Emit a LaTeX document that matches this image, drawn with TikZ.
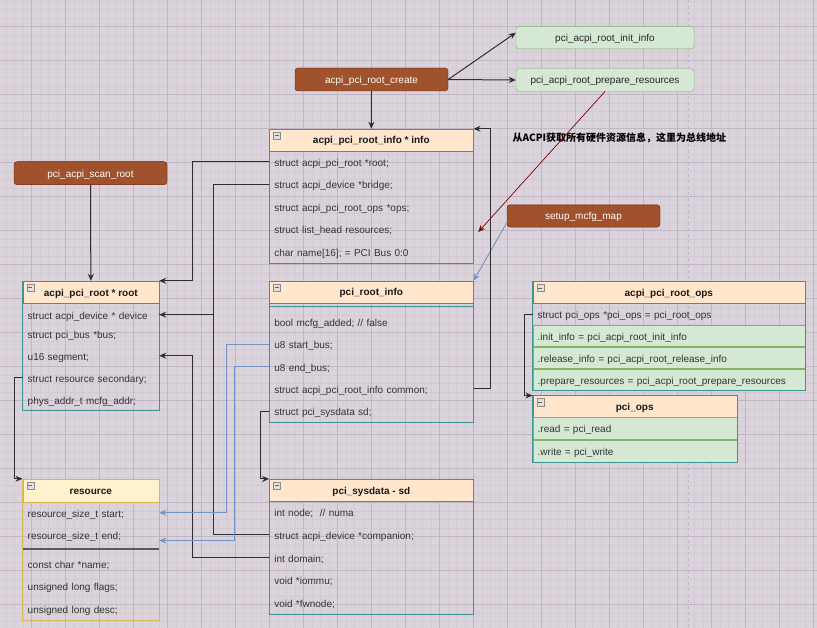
\documentclass[tikz,border=0pt]{standalone}
\usepackage{fontspec}
\setmainfont{Liberation Sans}
\newfontfamily\cjk{Noto Sans CJK SC}
\usetikzlibrary{arrows.meta,positioning}

\definecolor{canvas}{HTML}{DBD3DB}
\definecolor{gridmin}{HTML}{D3CAD4}
\definecolor{gridmaj}{HTML}{C1B6C3}
\definecolor{brownfill}{HTML}{A0522D}
\definecolor{brownline}{HTML}{6D1F00}
\definecolor{grnfill}{HTML}{D5E8D4}
\definecolor{grnline}{HTML}{82B366}
\definecolor{peach}{HTML}{FFE6CC}
\definecolor{tealc}{HTML}{3C9494}
\definecolor{resfill}{HTML}{FFF2CC}
\definecolor{resline}{HTML}{D6B656}
\definecolor{bluec}{HTML}{7394C4}
\definecolor{redc}{HTML}{800000}
\definecolor{rowtxt}{HTML}{333333}
\definecolor{wirec}{HTML}{2E2E2E}

\newcommand\txtsize{\fontsize{10}{12}\selectfont}

\tikzset{
  brownbox/.style={rectangle, rounded corners=3pt, fill=brownfill, draw=brownline, text=white, font=\txtsize, minimum width=153pt, minimum height=23pt, inner sep=0pt, text height=9pt, text depth=1pt},
  greenbox/.style={rectangle, rounded corners=3pt, fill=grnfill, draw=grnline, text=black!85, font=\txtsize, minimum width=178pt, minimum height=22.5pt, inner sep=0pt, text height=9pt, text depth=1pt},
  hdr/.style={rectangle, fill=peach, draw=tealc, text=black!90, font=\txtsize\bfseries, minimum height=22pt, inner sep=0pt, text height=9pt, text depth=1pt},
  fld/.style={rectangle, text=rowtxt, font=\txtsize, minimum height=22pt, inner xsep=5pt, inner ysep=0pt, align=left, text height=9.5pt, text depth=0.5pt},
  grnfld/.style={fld, fill=grnfill, draw=grnline},
  tealframe/.style={draw=tealc},
  minbox/.style={rectangle, draw=black!45, fill=black!12, minimum size=7pt, inner sep=0pt, anchor=north west,
    path picture={\draw[black!60] ([xshift=1.5pt]path picture bounding box.west) -- ([xshift=-1.5pt]path picture bounding box.east);}},
  wire/.style={draw=wirec, line width=1pt},
  wirearrow/.style={wire, -{Stealth[length=7pt,width=6pt]}},
  bluearrow/.style={draw=bluec, line width=0.9pt, -{Stealth[length=7pt,width=6pt]}},
}

\begin{document}
\begin{tikzpicture}[x=1pt, y=-1pt]

    % canvas and grid
    \useasboundingbox (0,0) rectangle (817,628);
    \fill[canvas] (0,0) rectangle (817,628);
    \begin{scope}
        \clip (0,0) rectangle (817,628);
        \foreach \k in {0,...,96} \draw[gridmin, line width=0.7pt] ({-2.3+8.5*\k},0) -- ({-2.3+8.5*\k},628);
        \foreach \k in {0,...,75} \draw[gridmin, line width=0.7pt] (0,{-7.3+8.5*\k}) -- (817,{-7.3+8.5*\k});
        \foreach \k in {1,...,24} \draw[gridmaj, line width=0.8pt] ({-2.3+34*\k},0) -- ({-2.3+34*\k},628);
        \foreach \k in {1,...,18} \draw[gridmaj, line width=0.8pt] (0,{-7.3+34*\k}) -- (817,{-7.3+34*\k});
        \draw[gridmaj, dash pattern=on 3pt off 3pt] (688.3,0) -- (688.3,628); % page break
    \end{scope}

    % functions
    \node[brownbox] (create) at (371.5,79.5) {acpi\_pci\_root\_create};
    \node[brownbox] (scan) at (90.5,173.2) {pci\_acpi\_scan\_root};
    \node[brownbox, minimum height=22.3pt] (mcfg) at (583.5,216) {setup\_mcfg\_map};
    \node[greenbox] (initinfo) at (605,37.7) {pci\_acpi\_root\_init\_info};
    \node[greenbox] (prepres) at (605,80) {pci\_acpi\_root\_prepare\_resources};
    \node[anchor=west, inner sep=0pt, font=\txtsize\cjk\bfseries, text=black] (acpinote) at (512.5,137.5) {从ACPI获取所有硬件资源信息，这里为总线地址};

    % acpi_pci_root_info
    \node[hdr, minimum width=204pt] (infoH) at (371.3,140) {acpi\_pci\_root\_info * info};
    \node[fld, text width=194pt] (info1) at (371.3,162) {struct acpi\_pci\_root *root;};
    \node[fld, text width=194pt, below=0pt of info1] (info2) {struct acpi\_device *bridge;};
    \node[fld, text width=194pt, below=0pt of info2] (info3) {struct acpi\_pci\_root\_ops *ops;};
    \node[fld, text width=194pt, below=0pt of info3] (info4) {struct list\_head resources;};
    \node[fld, text width=194pt, below=0pt of info4] (info5) {char name[16]; = PCI Bus 0:0};
    \draw[tealframe] (infoH.north west) rectangle (info5.south east);

    % pci_root_info
    \node[hdr, minimum width=204pt] (priH) at (371.3,292) {pci\_root\_info};
    \draw[tealframe] ([yshift=-3pt]priH.south west) -- ([yshift=-3pt]priH.south east);
    \node[fld, text width=194pt] (pri1) at (371.3,321.7) {bool mcfg\_added; // false};
    \node[fld, text width=194pt, below=0pt of pri1] (pri2) {u8 start\_bus;};
    \node[fld, text width=194pt, below=0pt of pri2] (pri3) {u8 end\_bus;};
    \node[fld, text width=194pt, below=0pt of pri3] (pri4) {struct acpi\_pci\_root\_info common;};
    \node[fld, text width=194pt, below=0pt of pri4] (pri5) {struct pci\_sysdata sd;};
    \draw[tealframe] (priH.north west) rectangle (pri5.south east);

    % acpi_pci_root
    \node[hdr, minimum width=136.3pt, minimum height=22.7pt] (rootH) at (90.85,292.35) {acpi\_pci\_root * root};
    \node[fld, text width=126.3pt, minimum height=20pt] (root1) at (90.85,314.7) {struct acpi\_device * device};
    \node[fld, text width=126.3pt, minimum height=20pt] (root2) at (90.85,333.7) {struct pci\_bus *bus;};
    \node[fld, text width=126.3pt, minimum height=20pt] (root3) at (90.85,355.7) {u16 segment;};
    \node[fld, text width=126.3pt, minimum height=20pt] (root4) at (90.85,378) {struct resource secondary;};
    \node[fld, text width=126.3pt, minimum height=20pt] (root5) at (90.85,399.7) {phys\_addr\_t mcfg\_addr;};
    \draw[tealframe] (rootH.north west) rectangle (root5.south east);

    % resource
    \node[hdr, fill=resfill, draw=resline, minimum width=136.3pt, minimum height=22.7pt] (resH) at (90.85,490.35) {resource};
    \node[fld, text width=126.3pt] (res1) at (90.85,512.7) {resource\_size\_t start;};
    \node[fld, text width=126.3pt, below=0pt of res1] (res2) {resource\_size\_t end;};
    \node[fld, text width=126.3pt] (res3) at (90.85,563.7) {const char *name;};
    \node[fld, text width=126.3pt, below=0pt of res3] (res4) {unsigned long flags;};
    \node[fld, text width=126.3pt, below=0pt of res4] (res5) {unsigned long desc;};
    \draw[black!65, line width=1.3pt] (22.7,549) -- (159,549); % separator
    \draw[resline] (resH.north west) rectangle (res5.south east);

    % pci_sysdata
    \node[hdr, minimum width=204pt] (sdH) at (371.3,490.15) {pci\_sysdata - sd};
    \node[fld, text width=194pt, minimum height=22.2pt] (sd1) at (371.3,512.3) {int node;~~// numa};
    \node[fld, text width=194pt, minimum height=22.2pt, below=0pt of sd1] (sd2) {struct acpi\_device *companion;};
    \node[fld, text width=194pt, minimum height=22.2pt, below=0pt of sd2] (sd3) {int domain;};
    \node[fld, text width=194pt, minimum height=22.2pt, below=0pt of sd3] (sd4) {void *iommu;};
    \node[fld, text width=194pt, minimum height=22.2pt, below=0pt of sd4] (sd5) {void *fwnode;};
    \draw[tealframe] (sdH.north west) rectangle (sd5.south east);

    % acpi_pci_root_ops
    \node[hdr, minimum width=272.3pt, minimum height=21.6pt] (opsH) at (668.85,292.5) {acpi\_pci\_root\_ops};
    \node[fld, text width=262.3pt, minimum height=21.5pt] (ops1) at (668.85,314.05) {struct pci\_ops *pci\_ops = pci\_root\_ops};
    \node[grnfld, text width=262.3pt, minimum height=21.5pt, below=0pt of ops1] (ops2) {.init\_info = pci\_acpi\_root\_init\_info};
    \node[grnfld, text width=262.3pt, minimum height=21.5pt, below=0pt of ops2] (ops3) {.release\_info = pci\_acpi\_root\_release\_info};
    \node[grnfld, text width=262.3pt, minimum height=21.5pt, below=0pt of ops3] (ops4) {.prepare\_resources = pci\_acpi\_root\_prepare\_resources};
    \draw[tealframe] (opsH.north west) rectangle (ops4.south east);

    % pci_ops
    \node[hdr, minimum width=204pt, minimum height=21.6pt] (pciopsH) at (634.7,406.5) {pci\_ops};
    \node[grnfld, text width=194pt] (pciops1) at (634.7,428.3) {.read = pci\_read};
    \node[grnfld, text width=194pt, below=0pt of pciops1] (pciops2) {.write = pci\_write};
    \draw[tealframe] (pciopsH.north west) rectangle (pciops2.south east);

    % collapse icons
    \foreach \h in {infoH, priH, rootH, resH, sdH, opsH, pciopsH}
        \node[minbox] (\h-m) at ([shift={(4pt,-3pt)}]\h.north west) {};

    % calls
    \draw[wirearrow] (create.south) -- (infoH.north);
    \draw[wirearrow] (create.east) -- ([yshift=5pt]initinfo.west);
    \draw[wirearrow] (create.east) -- (prepres.west);
    \draw[wirearrow] (scan.south) -- (rootH.north);
    \coordinate (resTip) at (478.3,232);
    \draw[draw=redc, line width=0.7pt, -{Stealth[length=7pt,width=6pt]}] (prepres.south) -- (resTip);
    \draw[bluearrow] ([yshift=-6.7pt]mcfg.west) -- (priH.north east);

    % pointers between structs
    \draw[wirearrow] (info1.west) -- ++(-76.6,0) |- (rootH.north east);
    \draw[wirearrow] (info2.west) -- ++(-55.3,0) |- (root1.east);
    \draw[wire] (sd2.west) -- ++(-55.3,0) |- (root1.east);
    \draw[wirearrow] (sd3.west) -- ++(-76.6,0) |- (root3.east);
    \draw[bluearrow] (pri2.west) -- ++(-42.6,0) |- (res1.east);
    \draw[bluearrow] (pri3.west) -- ++(-34.3,0) |- ([yshift=-5.5pt]res2.east);
    \draw[wirearrow] (pri5.west) -- ++(-8.3,0) |- (sdH.north west);
    \draw[wirearrow] (pri4.east) -- ++(16.7,0) |- (infoH.north east);
    \draw[wirearrow] (root4.west) -- ++(-8,0) |- (resH.north west);
    \draw[wirearrow] (ops1.west) -- ++(-7.7,0) |- (pciopsH.north west);

\end{tikzpicture}
\end{document}
